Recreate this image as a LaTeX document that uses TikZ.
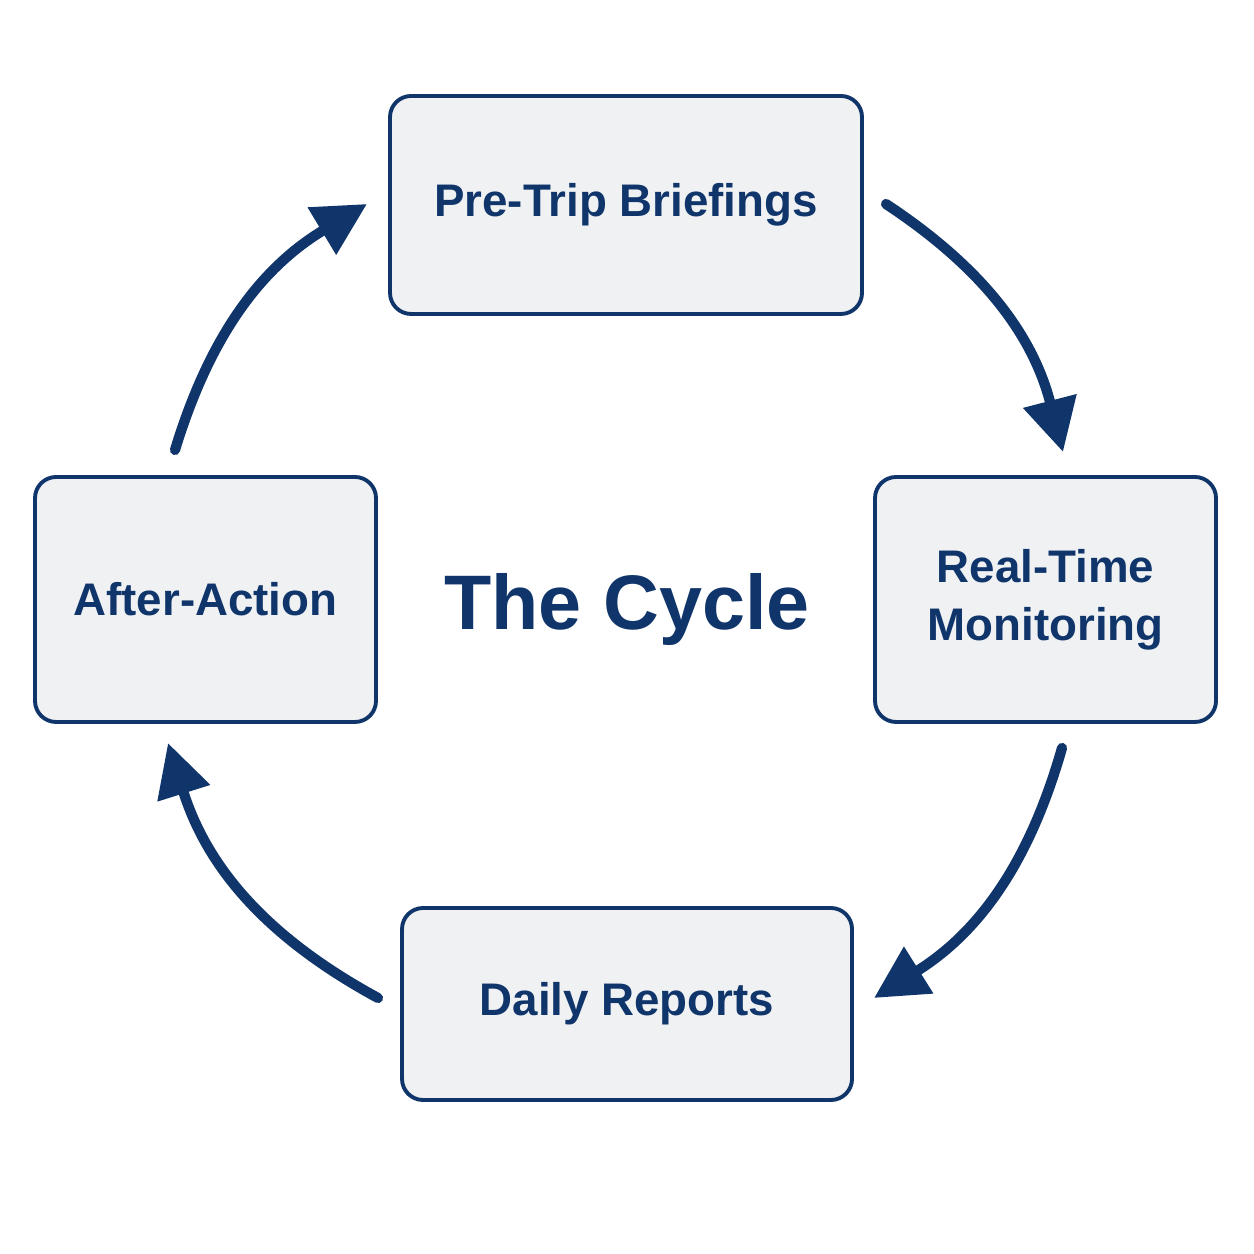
\documentclass[tikz,border=0pt]{standalone}
\usepackage{fontspec}
\setmainfont{Liberation Sans}
\usepackage{xcolor}
\usetikzlibrary{arrows.meta,positioning,calc}
\definecolor{navy}{HTML}{0F356B}
\definecolor{boxfill}{HTML}{F0F1F3}
\tikzset{
  stagebox/.style={draw=navy,line width=1.1pt,fill=boxfill,rounded corners=6pt,
    align=center,text=navy,font=\bfseries\fontsize{13}{16.5}\selectfont},
  cycflow/.style={-{Triangle[length=15pt,width=15pt]},draw=navy,
    line width=2.9pt,line cap=round},
}
\begin{document}
\begin{tikzpicture}
\fill[white] (0,0) rectangle (12.54,12.54);
% the four stages round the cycle
\node[stagebox,minimum width=4.72cm,minimum height=2.18cm] (pre) at (6.26,10.49) {Pre-Trip Briefings};
\node[stagebox,minimum width=3.41cm,minimum height=2.45cm] (rtm) at (10.455,6.545) {Real-Time\\Monitoring};
\node[stagebox,minimum width=4.50cm,minimum height=1.92cm] (daily) at (6.27,2.50) {Daily Reports};
\node[stagebox,minimum width=3.41cm,minimum height=2.45cm] (after) at (2.055,6.545) {After-Action};
% title in the middle
\node[text=navy,font=\bfseries\fontsize{22}{26}\selectfont] (cycle) at (6.27,6.44) {The Cycle};
% arrow ends
\coordinate (a1s) at (8.86,10.50);
\coordinate (a1e) at (10.63,8.02);
\coordinate (a2s) at (10.62,5.06);
\coordinate (a2e) at (8.74,2.56);
\coordinate (a3s) at (3.78,2.56);
\coordinate (a3e) at (1.68,5.11);
\coordinate (a4s) at (1.75,8.04);
\coordinate (a4e) at (3.67,10.50);
\draw[cycflow] (a1s) to[bend left=21] (a1e);
\draw[cycflow] (a2s) to[bend left=21] (a2e);
\draw[cycflow] (a3s) to[bend left=22] (a3e);
\draw[cycflow] (a4s) to[bend left=21] (a4e);
\end{tikzpicture}
\end{document}
